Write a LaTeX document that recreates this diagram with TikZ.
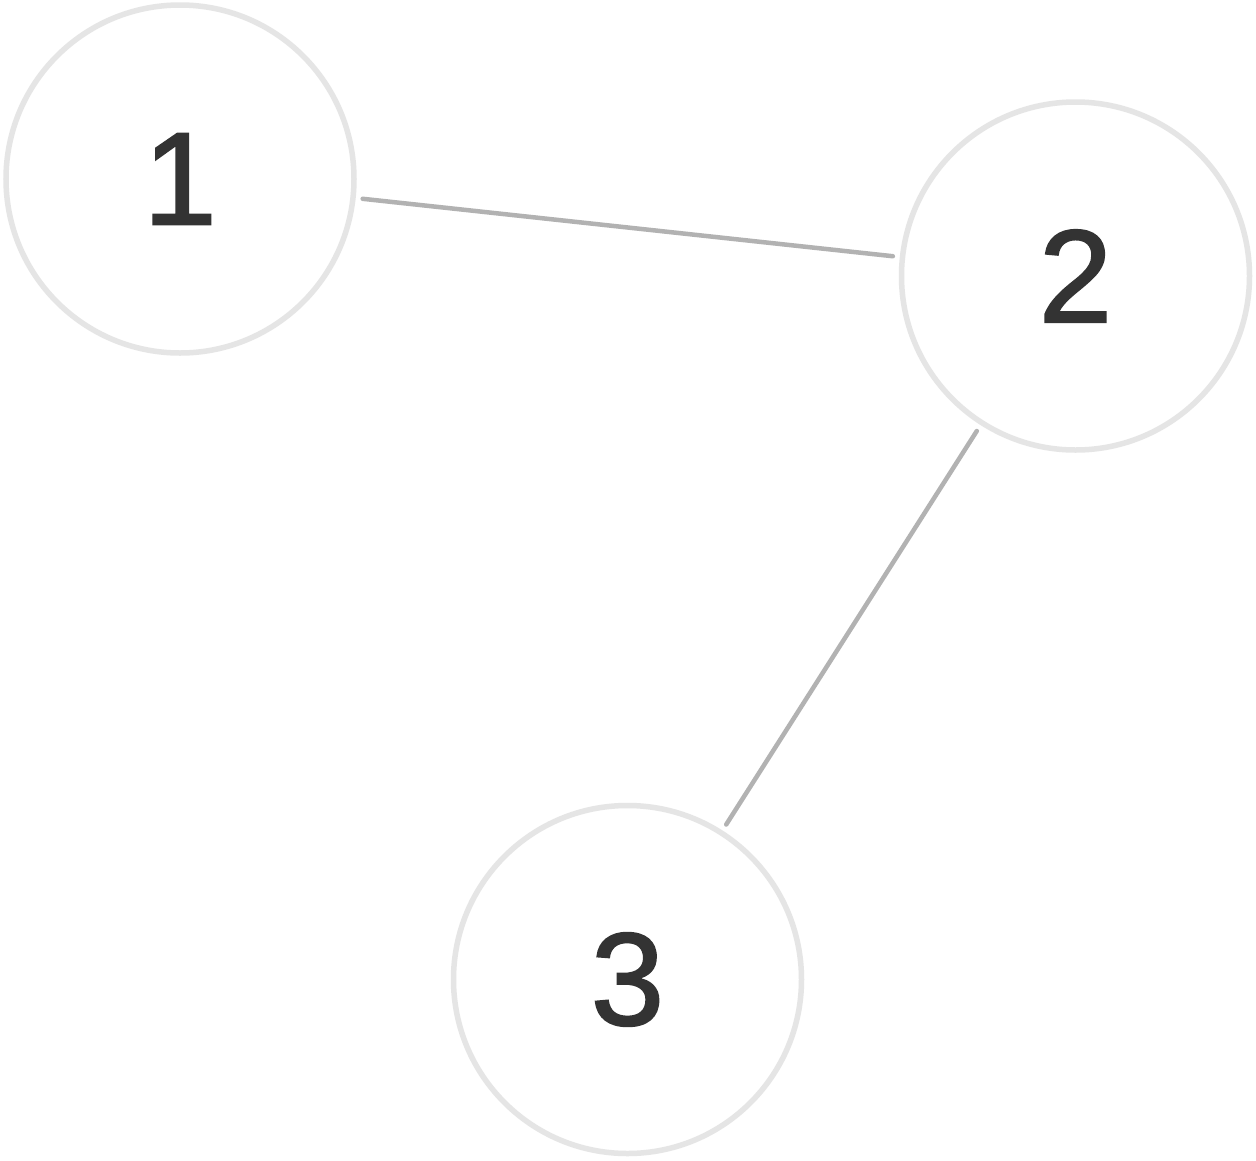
\documentclass[tikz,border=0pt]{standalone}
\usepackage{fontspec}
\setmainfont{Liberation Sans}
\newfontfamily\digitfont{Liberation Sans}[FakeBold=1.5]
\begin{document}
\begin{tikzpicture}[x=1pt,y=-1pt,
  vertex/.style={circle,draw=black!10,line width=5.5pt,minimum size=348pt,inner sep=0pt,
    text=black!80,font=\digitfont\fontsize{132}{132}\selectfont},
  edge/.style={draw=black!30,line width=4.5pt,line cap=round,shorten <=7pt,shorten >=7pt}]
\useasboundingbox[fill=white] (0,0) rectangle (1256,1160);
\node[vertex] (n1) at (180,179) {1};
\node[vertex] (n2) at (1075.5,276) {2};
\node[vertex] (n3) at (627.5,979.5) {3};
\draw[edge] (n1) -- (n2);
\draw[edge] (n2) -- (n3);
\end{tikzpicture}
\end{document}
